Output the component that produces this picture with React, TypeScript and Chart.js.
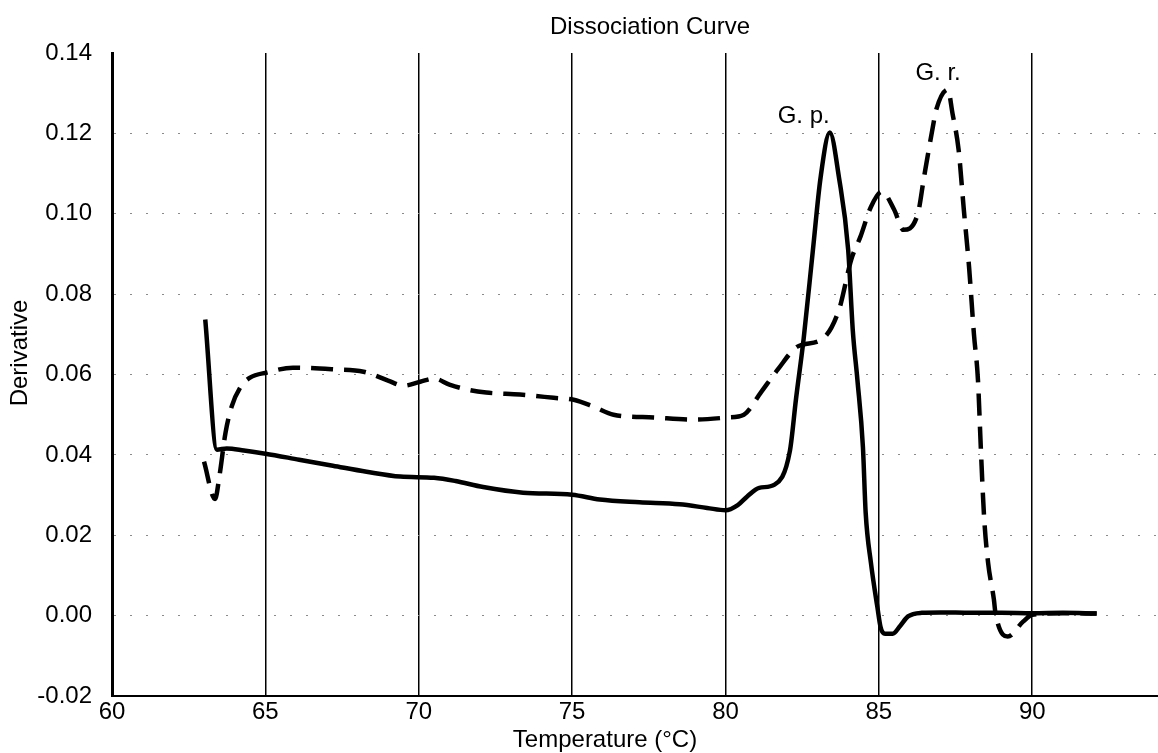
import React, { useEffect, useRef } from "react";
import { Chart, registerables } from "chart.js";

Chart.register(...registerables);

// ---- Data ----
const gpTemp = [
  63.04, 63.42, 63.74, 64.3, 65.0, 66.1, 67.2, 68.3, 69.4, 70.5, 71.2, 72.1, 73.4, 75.0, 75.9,
  77.2, 78.5, 79.4, 80.0, 80.4, 80.7, 81.1, 81.6, 82.1, 82.3, 82.55, 82.85, 83.1, 83.4, 83.7,
  84.0, 84.15, 84.3, 84.48, 84.57, 84.74, 84.95, 85.06, 85.2, 85.45, 85.7, 85.95, 86.4, 87.0,
  88.0, 89.0, 90.0, 91.0, 92.1,
];
const gpDeriv = [
  0.0737, 0.0413, 0.0416, 0.0411, 0.0403, 0.0388, 0.0373, 0.0358, 0.0346, 0.0343, 0.0335, 0.032,
  0.0306, 0.0301, 0.0289, 0.0282, 0.0277, 0.0268, 0.0262, 0.0275, 0.0296, 0.0318, 0.0326, 0.041,
  0.054, 0.069, 0.091, 0.109, 0.1202, 0.109, 0.091, 0.071, 0.0587, 0.042, 0.0256, 0.0132, 0.0022,
  -0.003, -0.0045, -0.0045, -0.0025, -0.0002, 0.0007, 0.0008, 0.0007, 0.0007, 0.0006, 0.0007,
  0.0005,
];

const grTemp = [
  63.0, 63.36, 63.5, 63.7, 63.9, 64.2, 64.5, 65.05, 65.9, 67.2, 68.2, 69.0, 69.5, 70.05, 70.5,
  71.0, 71.6, 72.2, 73.3, 74.4, 75.05, 75.7, 76.35, 77.66, 78.96, 80.07, 80.6, 81.15, 81.7, 82.36,
  83.17, 83.7, 84.1, 84.4, 84.74, 85.1, 85.5, 85.8, 86.27, 86.47, 86.76, 86.87, 87.25, 87.4, 87.6,
  87.77, 87.94, 88.1, 88.23, 88.33, 88.43, 88.56, 88.75, 88.8, 89.2, 89.7, 90.0, 91.0, 92.1,
];
const grDeriv = [
  0.0383, 0.029, 0.0346, 0.0455, 0.052, 0.057, 0.0592, 0.0605, 0.0617, 0.0613, 0.0607, 0.0585,
  0.0572, 0.0582, 0.059, 0.0575, 0.0562, 0.0555, 0.055, 0.0542, 0.0537, 0.052, 0.05, 0.0493,
  0.0488, 0.0493, 0.05, 0.0555, 0.0612, 0.067, 0.0689, 0.0761, 0.0886, 0.0943, 0.1017, 0.1055,
  0.101, 0.096, 0.1, 0.109, 0.1216, 0.1259, 0.1309, 0.125, 0.1159, 0.101, 0.0868, 0.07, 0.0587,
  0.0406, 0.0246, 0.0132, 0.004, 0.0007, -0.0052, -0.0015, 0.0002, 0.0006, 0.0005,
];

const peakLabels = ["G. p.", "G. r."];
const peakLabelTemp = [82.55, 86.93];
const peakLabelDeriv = [0.1242, 0.1349];

const chartTitle = "Dissociation Curve";
const xTitle = "Temperature (°C)";
const yTitle = "Derivative";

const FONT = '"Liberation Sans", Arial, Helvetica, sans-serif';

const toPoints = (xs: number[], ys: number[]) => xs.map((x, i) => ({ x, y: ys[i] }));

const textPlugin = {
  id: "textPlugin",
  afterDraw(chart: any) {
    const { ctx, scales } = chart;
    ctx.save();
    ctx.fillStyle = "#000";
    ctx.textAlign = "center";
    ctx.textBaseline = "middle";
    ctx.font = `24px ${FONT}`;
    ctx.fillText(chartTitle, 650, 27);
    ctx.font = `24px ${FONT}`;
    ctx.fillText(xTitle, 605, 740);
    ctx.save();
    ctx.translate(20, 353);
    ctx.rotate(-Math.PI / 2);
    ctx.fillText(yTitle, 0, 0);
    ctx.restore();
    ctx.font = `24px ${FONT}`;
    peakLabels.forEach((t, i) => {
      const px = scales.x.getPixelForValue(peakLabelTemp[i]);
      const py = scales.y.getPixelForValue(peakLabelDeriv[i]);
      ctx.fillText(t, px, py);
    });
    ctx.restore();
  },
};

export default function App() {
  const canvasRef = useRef<HTMLCanvasElement>(null);

  useEffect(() => {
    document.body.style.margin = "0";
    const canvas = canvasRef.current;
    if (!canvas) return;
    const chart = new Chart(canvas, {
      type: "line",
      data: {
        datasets: [
          {
            label: "G. p.",
            data: toPoints(gpTemp, gpDeriv),
            borderColor: "#000",
            borderWidth: 4.5,
            pointRadius: 0,
            fill: false,
            cubicInterpolationMode: "monotone",
          },
          {
            label: "G. r.",
            data: toPoints(grTemp, grDeriv),
            borderColor: "#000",
            borderWidth: 4.5,
            borderDash: [22, 11],
            pointRadius: 0,
            fill: false,
            cubicInterpolationMode: "monotone",
          },
        ],
      },
      options: {
        responsive: false,
        animation: false,
        parsing: true,
        layout: { padding: { top: 53, left: 0, right: 0, bottom: 0 } },
        plugins: {
          legend: { display: false },
          title: { display: false },
          tooltip: { enabled: false },
        },
        scales: {
          x: {
            type: "linear",
            min: 60,
            max: 94.1,
            afterBuildTicks: (scale: any) => {
              scale.ticks = scale.ticks.filter(
                (t: any) => Math.abs(t.value / 5 - Math.round(t.value / 5)) < 1e-6 && t.value <= 90
              );
            },
            afterFit: (scale: any) => {
              scale.height = 57;
            },
            ticks: {
              stepSize: 5,
              color: "#000",
              font: { family: FONT, size: 24 },
              padding: 2,
              maxRotation: 0,
              callback: (v: any) => String(v),
            },
            grid: {
              color: "#000",
              lineWidth: 1.5,
              drawTicks: false,
            },
            border: { display: true, color: "#000", width: 2 },
          },
          y: {
            type: "linear",
            min: -0.02,
            max: 0.14,
            afterFit: (scale: any) => {
              scale.width = 112;
            },
            ticks: {
              stepSize: 0.02,
              color: "#000",
              font: { family: FONT, size: 24 },
              padding: 20,
              callback: (v: any) => Number(v).toFixed(2),
            },
            grid: {
              color: (ctx: any) =>
                ctx.tick && (ctx.tick.value > 0.139 || ctx.tick.value < -0.019)
                  ? "rgba(0,0,0,0)"
                  : "#8a8a8a",
              lineWidth: 1,
              drawTicks: false,
            },
            border: { display: true, color: "#000", width: 3, dash: [2, 14] },
          },
        },
      },
      plugins: [textPlugin],
    });
    return () => chart.destroy();
  }, []);

  return (
    <div style={{ width: 1158, height: 753 }}>
      <canvas ref={canvasRef} width={1158} height={753} style={{ display: "block" }} />
    </div>
  );
}
